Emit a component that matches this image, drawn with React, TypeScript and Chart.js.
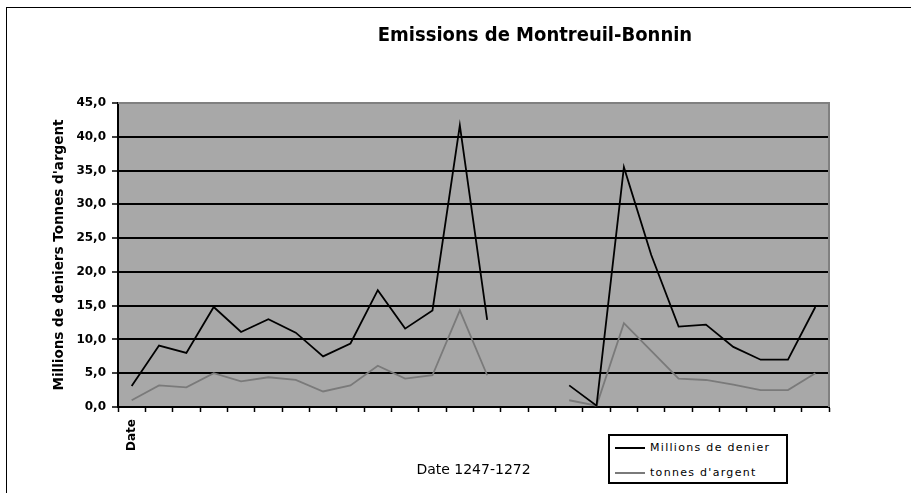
import React, { useEffect, useRef } from "react";
import { Chart, registerables } from "chart.js";

Chart.register(...registerables);

// Categories (years 1247-1272); only the first one carries a label in the source chart
const categories: string[] = [
  "Date", "", "", "", "", "", "", "", "", "", "", "", "",
  "", "", "", "", "", "", "", "", "", "", "", "", "",
];

// Millions de deniers
const deniers: (number | null)[] = [
  3.1, 9.1, 8.0, 14.8, 11.1, 13.0, 11.0, 7.5, 9.4, 17.3, 11.6, 14.3, 41.7,
  12.9, null, null, 3.2, 0.2, 35.5, 22.5, 11.9, 12.2, 8.9, 7.0, 7.0, 14.8,
];

// Tonnes d'argent
const argent: (number | null)[] = [
  1.0, 3.2, 2.9, 5.0, 3.8, 4.4, 4.0, 2.3, 3.2, 6.1, 4.2, 4.7, 14.3,
  4.7, null, null, 1.0, 0.2, 12.4, 8.3, 4.2, 4.0, 3.3, 2.5, 2.5, 5.0,
];

const yTickLabels: string[] = [
  "0,0", "5,0", "10,0", "15,0", "20,0", "25,0", "30,0", "35,0", "40,0", "45,0",
];

const seriesNames = ["Millions de denier", "tonnes d'argent"];
const chartTitle = "Emissions de Montreuil-Bonnin";
const xTitle = "Date 1247-1272";
const yTitle = "Millions de deniers Tonnes d'argent";

const BLACK = "#000000";
const GREY = "#7a7a7a";
const FONT = "'DejaVu Sans', 'Liberation Sans', sans-serif";

export default function App() {
  const ref = useRef<HTMLCanvasElement>(null);

  useEffect(() => {
    const plotFrame = {
      id: "plotFrame",
      beforeDraw(chart: any) {
        const { ctx, chartArea: a } = chart;
        ctx.save();
        ctx.fillStyle = "#a8a8a8";
        ctx.fillRect(a.left, a.top, a.right - a.left, a.bottom - a.top);
        ctx.restore();
      },
      afterDraw(chart: any) {
        const { ctx, chartArea: a } = chart;
        ctx.save();
        ctx.strokeStyle = "#808080";
        ctx.lineWidth = 2;
        ctx.beginPath();
        ctx.moveTo(a.left, a.top);
        ctx.lineTo(a.right, a.top);
        ctx.lineTo(a.right, a.bottom);
        ctx.stroke();
        ctx.restore();
      },
    };

    const chart = new Chart(ref.current as HTMLCanvasElement, {
      type: "line",
      data: {
        labels: categories,
        datasets: [
          {
            label: seriesNames[0],
            data: deniers,
            borderColor: BLACK,
            borderWidth: 1.8,
            pointRadius: 0,
            tension: 0,
            spanGaps: false,
          },
          {
            label: seriesNames[1],
            data: argent,
            borderColor: GREY,
            borderWidth: 1.8,
            pointRadius: 0,
            tension: 0,
            spanGaps: false,
          },
        ],
      },
      options: {
        animation: false,
        responsive: false,
        layout: { padding: { left: 0, top: 103, right: 82, bottom: 0 } },
        plugins: {
          legend: { display: false },
          tooltip: { enabled: false },
          title: { display: false },
        },
        scales: {
          x: {
            type: "category",
            offset: true,
            afterFit: (s: any) => {
              s.height = 86;
            },
            grid: {
              offset: true,
              drawOnChartArea: false,
              drawTicks: true,
              tickLength: 5,
              tickColor: BLACK,
              tickWidth: 1.5,
            },
            border: { display: true, color: BLACK, width: 2 },
            ticks: {
              autoSkip: false,
              maxRotation: 90,
              minRotation: 90,
              padding: 7,
              color: BLACK,
              font: { family: FONT, size: 12, weight: "bold" },
            },
            title: {
              display: true,
              text: xTitle,
              color: BLACK,
              font: { family: FONT, size: 14, weight: "normal" },
              padding: { top: 0, bottom: 14.6 },
            },
          },
          y: {
            min: 0,
            max: 45,
            afterFit: (s: any) => {
              s.width = 118;
            },
            ticks: {
              stepSize: 5,
              padding: 6,
              color: BLACK,
              font: { family: FONT, size: 12, weight: "bold" },
              callback: (v: any) => yTickLabels[Math.round(Number(v) / 5)],
            },
            grid: {
              color: (c: any) =>
                c.tick && c.tick.value === 45 ? "rgba(0,0,0,0)" : BLACK,
              lineWidth: 2,
              drawTicks: true,
              tickLength: 6,
              tickColor: BLACK,
              tickWidth: 1.5,
            },
            border: { display: true, color: BLACK, width: 2 },
            title: {
              display: true,
              text: yTitle,
              color: BLACK,
              font: { family: FONT, size: 13.5, weight: "bold" },
              padding: { top: 50.9, bottom: 0 },
            },
          },
        },
      },
      plugins: [plotFrame],
    } as any);

    return () => chart.destroy();
  }, []);

  const legendRow = (color: string, text: string, top: number) => (
    <div
      style={{
        position: "absolute",
        left: 5,
        top,
        height: 16,
        display: "flex",
        alignItems: "center",
        whiteSpace: "nowrap",
      }}
    >
      <span
        style={{
          display: "inline-block",
          width: 30,
          height: 2,
          background: color,
          marginRight: 5,
        }}
      />
      <span
        style={{
          fontFamily: FONT,
          fontSize: 11,
          letterSpacing: "1.3px",
          color: "#000",
          lineHeight: "16px",
        }}
      >
        {text}
      </span>
    </div>
  );

  return (
    <div
      style={{
        position: "fixed",
        left: 0,
        top: 0,
        width: 911,
        height: 493,
        overflow: "hidden",
        background: "#fff",
      }}
    >
      <div
        style={{
          position: "absolute",
          left: 6,
          top: 7,
          width: 1000,
          height: 1000,
          borderLeft: "1.5px solid #000",
          borderTop: "1.5px solid #000",
        }}
      />
      <canvas
        ref={ref}
        width={911}
        height={493}
        style={{ position: "absolute", left: 0, top: 0, width: 911, height: 493 }}
      />
      <div
        style={{
          position: "absolute",
          left: 535,
          top: 23.7,
          transform: "translateX(-50%)",
          fontFamily: "'DejaVu Sans Condensed', 'DejaVu Sans', sans-serif",
          fontStretch: "condensed",
          fontWeight: "bold",
          fontSize: 20,
          lineHeight: "20px",
          whiteSpace: "nowrap",
          color: "#000",
        }}
      >
        {chartTitle}
      </div>
      <div
        style={{
          position: "absolute",
          left: 608,
          top: 434,
          width: 176,
          height: 46,
          border: "2px solid #000",
          background: "#fff",
          overflow: "hidden",
        }}
      >
        {legendRow(BLACK, seriesNames[0], 4)}
        {legendRow(GREY, seriesNames[1], 29)}
      </div>
    </div>
  );
}
